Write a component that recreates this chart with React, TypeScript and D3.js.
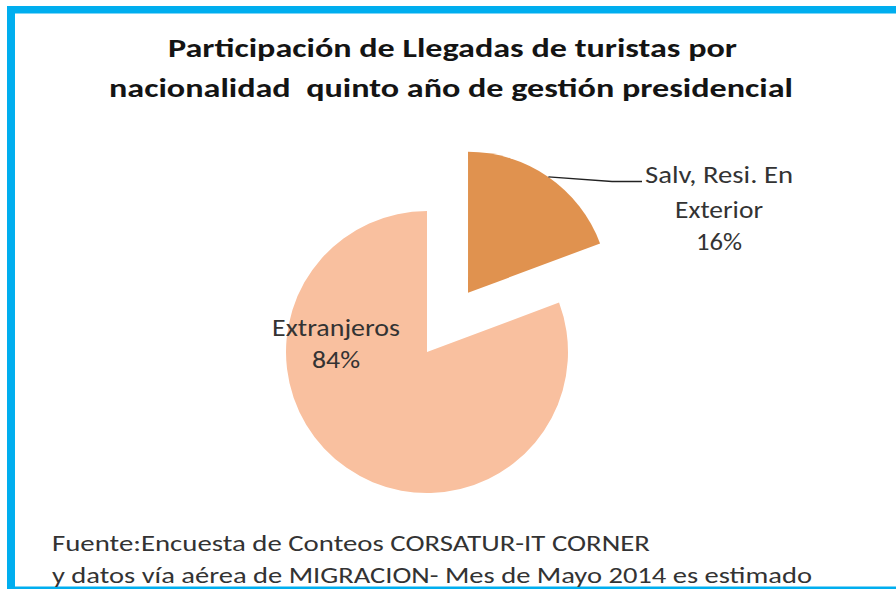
import React from "react";
import * as d3 from "d3";

// ---- data ----
const categories = ["Salv, Resi. En Exterior", "Extranjeros"];
// slice shares as drawn in the picture (angles)
const shares = [19.3, 80.7];
const percentLabels = ["16%", "84%"];
const titleLines = [
  "Participación de Llegadas de turistas por",
  "nacionalidad  quinto año de gestión presidencial",
];
const footerLines = [
  "Fuente:Encuesta de Conteos CORSATUR-IT CORNER",
  "y datos vía aérea de MIGRACION- Mes de Mayo 2014 es estimado",
];
const sliceColors = ["#E0924F", "#F9C09F"];

const W = 896;
const H = 589;
const cx = 427;
const cy = 352;
const R = 141;
const explode = 72;
const FONT = "Carlito, Calibri, Lato, 'Open Sans', sans-serif";

export default function App() {
  const pie = d3
    .pie<number>()
    .sort(null)
    .startAngle(0)
    .endAngle(2 * Math.PI)
    .value((d) => d);
  const arcs = pie(shares);
  const arcGen = d3.arc<d3.PieArcDatum<number>>().innerRadius(0).outerRadius(R);

  const offsets = arcs.map((a, i) => {
    if (i !== 0) return [0, 0];
    const mid = (a.startAngle + a.endAngle) / 2;
    return [Math.sin(mid) * explode, -Math.cos(mid) * explode];
  });

  // leader line for the exploded slice
  const a0 = arcs[0];
  const mid0 = (a0.startAngle + a0.endAngle) / 2;
  const lx0 = cx + offsets[0][0] + Math.sin(mid0) * R;
  const ly0 = cy + offsets[0][1] - Math.cos(mid0) * R;
  const leader = d3.line()([
    [lx0, ly0],
    [612, 181.5],
    [642, 181.5],
  ]);

  return (
    <svg
      width={W}
      height={H}
      viewBox={`0 0 ${W} ${H}`}
      style={{ position: "absolute", left: 0, top: 0, display: "block", background: "#fff" }}
    >
      <rect x={0} y={0} width={W} height={H} fill="#ffffff" />
      {/* frame */}
      <rect x={7} y={6} width={W - 7} height={7.5} fill="#00AEEF" />
      <rect x={7} y={6} width={8} height={H - 6} fill="#00AEEF" />
      <rect x={7} y={586.5} width={W - 7} height={2.5} fill="#00AEEF" />

      {/* title */}
      <g fontFamily={FONT} fontWeight="bold" fill="#141414" fontSize={27}>
        <text x={452.5} y={57} textAnchor="middle" textLength={569} lengthAdjust="spacingAndGlyphs">
          {titleLines[0]}
        </text>
        <text
          x={451}
          y={97}
          textAnchor="middle"
          textLength={684}
          lengthAdjust="spacingAndGlyphs"
          style={{ whiteSpace: "pre" }}
        >
          {titleLines[1]}
        </text>
      </g>

      {/* pie */}
      <g>
        {arcs.map((a, i) => (
          <path
            key={categories[i]}
            d={arcGen(a) || ""}
            fill={sliceColors[i]}
            transform={`translate(${cx + offsets[i][0]},${cy + offsets[i][1]})`}
          />
        ))}
      </g>

      <path d={leader || ""} fill="none" stroke="#222" strokeWidth={1.3} />

      {/* data labels */}
      <g fontFamily={FONT} fill="#333" fontSize={25} textAnchor="middle">
        <text x={719} y={183} textLength={148} lengthAdjust="spacingAndGlyphs">
          Salv, Resi. En
        </text>
        <text x={719} y={218} textLength={88} lengthAdjust="spacingAndGlyphs">
          Exterior
        </text>
        <text x={719} y={250} textLength={46} lengthAdjust="spacingAndGlyphs">
          {percentLabels[0]}
        </text>
        <text x={336} y={336} textLength={128} lengthAdjust="spacingAndGlyphs">
          {categories[1]}
        </text>
        <text x={336} y={368} textLength={48} lengthAdjust="spacingAndGlyphs">
          {percentLabels[1]}
        </text>
      </g>

      {/* footer */}
      <g fontFamily={FONT} fill="#333" fontSize={23}>
        <text x={52} y={551} textLength={598} lengthAdjust="spacingAndGlyphs">
          {footerLines[0]}
        </text>
        <text x={52} y={583} textLength={760} lengthAdjust="spacingAndGlyphs">
          {footerLines[1]}
        </text>
      </g>
    </svg>
  );
}
